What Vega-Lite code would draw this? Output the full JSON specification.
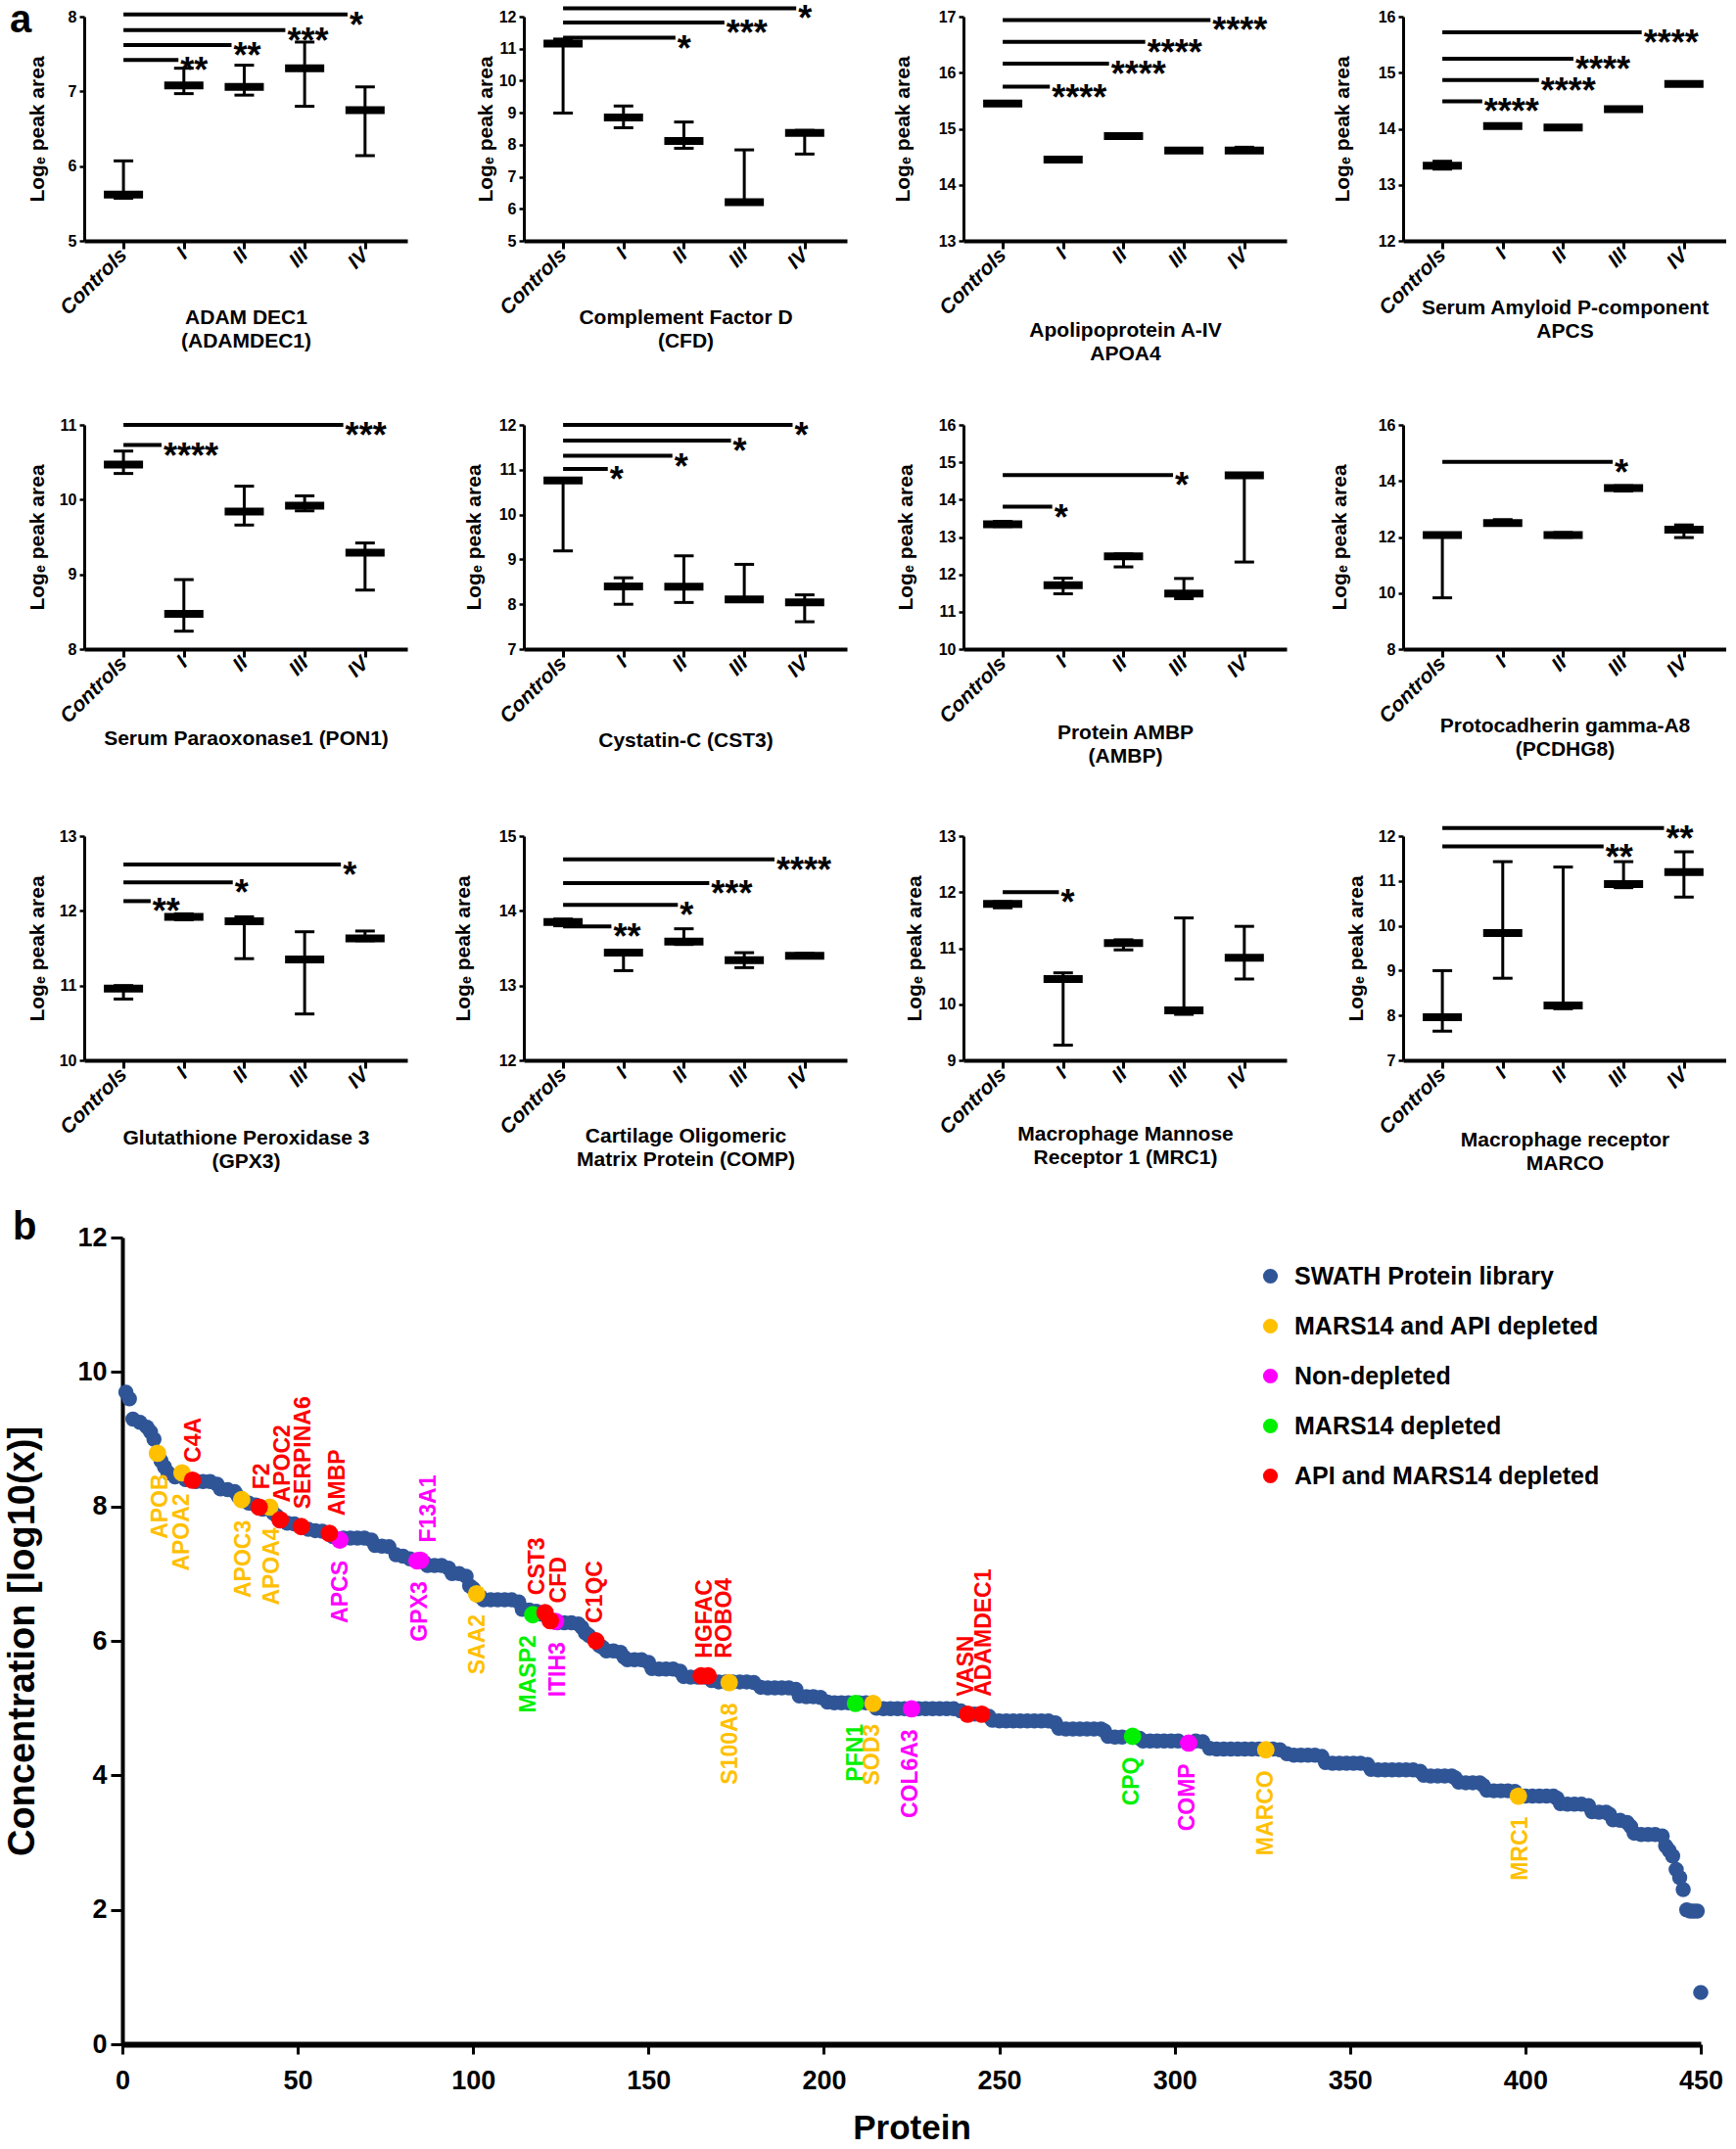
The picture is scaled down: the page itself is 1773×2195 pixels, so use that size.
{
"$schema":"https://vega.github.io/schema/vega-lite/v6.json",
"background":"white",
"padding":{"left":4,"top":0,"right":0,"bottom":0},
"config":{
 "font":"Liberation Sans",
 "view":{"stroke":null},
 "axis":{"grid":false,"labelFontWeight":"bold","titleFontWeight":"bold","domainColor":"#000","tickColor":"#000","labelColor":"#000","titleColor":"#000","labelOverlap":false,"labelFlush":false,"labelBound":false},
 "axisX":{"labelAngle":-45,"labelAlign":"right","labelBaseline":"middle","labelFontStyle":"italic","labelFontSize":21,"labelPadding":3,"tickSize":8,"tickWidth":3,"domainWidth":4,"titleFontSize":21,"titleBaseline":"top","titleLineHeight":24},
 "axisY":{"labelFontSize":16,"labelPadding":3,"tickSize":5,"tickWidth":2.5,"domainWidth":3,"titleFontSize":21},
 "title":{"fontWeight":"bold","color":"#000","font":"Liberation Sans"}
},
"datasets":{
 "pa":[
  {"pn":1,"g":0,"m":5.62,"lo":5.57,"hi":6.07},{"pn":1,"g":1,"m":7.08,"lo":6.97,"hi":7.31},{"pn":1,"g":2,"m":7.06,"lo":6.95,"hi":7.35},{"pn":1,"g":3,"m":7.31,"lo":6.80,"hi":7.66},{"pn":1,"g":4,"m":6.75,"lo":6.14,"hi":7.06},
  {"pn":2,"g":0,"m":11.16,"lo":8.99,"hi":11.30},{"pn":2,"g":1,"m":8.85,"lo":8.53,"hi":9.21},{"pn":2,"g":2,"m":8.12,"lo":7.89,"hi":8.71},{"pn":2,"g":3,"m":6.21,"lo":6.17,"hi":7.84},{"pn":2,"g":4,"m":8.37,"lo":7.71,"hi":8.45},
  {"pn":3,"g":0,"m":15.45,"lo":15.43,"hi":15.47},{"pn":3,"g":1,"m":14.45,"lo":14.43,"hi":14.47},{"pn":3,"g":2,"m":14.87,"lo":14.85,"hi":14.89},{"pn":3,"g":3,"m":14.61,"lo":14.59,"hi":14.63},{"pn":3,"g":4,"m":14.61,"lo":14.59,"hi":14.67},
  {"pn":4,"g":0,"m":13.34,"lo":13.28,"hi":13.42},{"pn":4,"g":1,"m":14.05,"lo":14.03,"hi":14.07},{"pn":4,"g":2,"m":14.02,"lo":14.0,"hi":14.04},{"pn":4,"g":3,"m":14.35,"lo":14.33,"hi":14.37},{"pn":4,"g":4,"m":14.80,"lo":14.78,"hi":14.82},
  {"pn":5,"g":0,"m":10.47,"lo":10.35,"hi":10.65},{"pn":5,"g":1,"m":8.47,"lo":8.24,"hi":8.93},{"pn":5,"g":2,"m":9.84,"lo":9.66,"hi":10.18},{"pn":5,"g":3,"m":9.92,"lo":9.85,"hi":10.05},{"pn":5,"g":4,"m":9.29,"lo":8.79,"hi":9.42},
  {"pn":6,"g":0,"m":10.76,"lo":9.19,"hi":10.80},{"pn":6,"g":1,"m":8.40,"lo":8.00,"hi":8.59},{"pn":6,"g":2,"m":8.39,"lo":8.04,"hi":9.08},{"pn":6,"g":3,"m":8.11,"lo":8.08,"hi":8.89},{"pn":6,"g":4,"m":8.04,"lo":7.61,"hi":8.21},
  {"pn":7,"g":0,"m":13.34,"lo":13.28,"hi":13.42},{"pn":7,"g":1,"m":11.71,"lo":11.48,"hi":11.90},{"pn":7,"g":2,"m":12.48,"lo":12.20,"hi":12.55},{"pn":7,"g":3,"m":11.49,"lo":11.35,"hi":11.89},{"pn":7,"g":4,"m":14.65,"lo":12.33,"hi":14.70},
  {"pn":8,"g":0,"m":12.07,"lo":9.83,"hi":12.12},{"pn":8,"g":1,"m":12.50,"lo":12.42,"hi":12.62},{"pn":8,"g":2,"m":12.07,"lo":11.99,"hi":12.16},{"pn":8,"g":3,"m":13.75,"lo":13.64,"hi":13.83},{"pn":8,"g":4,"m":12.26,"lo":11.98,"hi":12.43},
  {"pn":9,"g":0,"m":10.96,"lo":10.82,"hi":11.00},{"pn":9,"g":1,"m":11.92,"lo":11.88,"hi":11.96},{"pn":9,"g":2,"m":11.86,"lo":11.36,"hi":11.92},{"pn":9,"g":3,"m":11.35,"lo":10.62,"hi":11.72},{"pn":9,"g":4,"m":11.63,"lo":11.60,"hi":11.73},
  {"pn":10,"g":0,"m":13.85,"lo":13.80,"hi":13.89},{"pn":10,"g":1,"m":13.44,"lo":13.20,"hi":13.47},{"pn":10,"g":2,"m":13.59,"lo":13.55,"hi":13.76},{"pn":10,"g":3,"m":13.34,"lo":13.24,"hi":13.44},{"pn":10,"g":4,"m":13.40,"lo":13.37,"hi":13.43},
  {"pn":11,"g":0,"m":11.79,"lo":11.72,"hi":11.83},{"pn":11,"g":1,"m":10.45,"lo":9.27,"hi":10.56},{"pn":11,"g":2,"m":11.09,"lo":10.97,"hi":11.15},{"pn":11,"g":3,"m":9.89,"lo":9.82,"hi":11.54},{"pn":11,"g":4,"m":10.83,"lo":10.45,"hi":11.39},
  {"pn":12,"g":0,"m":7.96,"lo":7.65,"hi":9.00},{"pn":12,"g":1,"m":9.84,"lo":8.83,"hi":11.43},{"pn":12,"g":2,"m":8.22,"lo":8.15,"hi":11.31},{"pn":12,"g":3,"m":10.93,"lo":10.85,"hi":11.43},{"pn":12,"g":4,"m":11.20,"lo":10.64,"hi":11.65}
 ],
 "sg":[
  {"pn":1,"id":1,"v":7.42,"x0":0,"xe":0.91,"s":"**"},{"pn":1,"id":2,"v":7.62,"x0":0,"xe":1.79,"s":"**"},{"pn":1,"id":3,"v":7.82,"x0":0,"xe":2.68,"s":"***"},{"pn":1,"id":4,"v":8.03,"x0":0,"xe":3.71,"s":"*"},
  {"pn":2,"id":5,"v":11.34,"x0":0,"xe":1.86,"s":"*"},{"pn":2,"id":6,"v":11.82,"x0":0,"xe":2.67,"s":"***"},{"pn":2,"id":7,"v":12.26,"x0":0,"xe":3.86,"s":"*"},
  {"pn":3,"id":8,"v":15.75,"x0":0,"xe":0.78,"s":"****"},{"pn":3,"id":9,"v":16.16,"x0":0,"xe":1.76,"s":"****"},{"pn":3,"id":10,"v":16.55,"x0":0,"xe":2.36,"s":"****"},{"pn":3,"id":11,"v":16.94,"x0":0,"xe":3.44,"s":"****"},
  {"pn":4,"id":12,"v":14.49,"x0":0,"xe":0.66,"s":"****"},{"pn":4,"id":13,"v":14.87,"x0":0,"xe":1.60,"s":"****"},{"pn":4,"id":14,"v":15.25,"x0":0,"xe":2.17,"s":"****"},{"pn":4,"id":15,"v":15.72,"x0":0,"xe":3.30,"s":"****"},
  {"pn":5,"id":16,"v":10.73,"x0":0,"xe":0.63,"s":"****"},{"pn":5,"id":17,"v":11.0,"x0":0,"xe":3.64,"s":"***"},
  {"pn":6,"id":18,"v":11.02,"x0":0,"xe":0.74,"s":"*"},{"pn":6,"id":19,"v":11.31,"x0":0,"xe":1.81,"s":"*"},{"pn":6,"id":20,"v":11.65,"x0":0,"xe":2.78,"s":"*"},{"pn":6,"id":21,"v":12.0,"x0":0,"xe":3.8,"s":"*"},
  {"pn":7,"id":22,"v":13.81,"x0":0,"xe":0.82,"s":"*"},{"pn":7,"id":23,"v":14.66,"x0":0,"xe":2.82,"s":"*"},
  {"pn":8,"id":24,"v":14.68,"x0":0,"xe":2.82,"s":"*"},
  {"pn":9,"id":25,"v":12.13,"x0":0,"xe":0.45,"s":"**"},{"pn":9,"id":26,"v":12.38,"x0":0,"xe":1.81,"s":"*"},{"pn":9,"id":27,"v":12.62,"x0":0,"xe":3.6,"s":"*"},
  {"pn":10,"id":28,"v":13.79,"x0":0,"xe":0.8,"s":"**"},{"pn":10,"id":29,"v":14.08,"x0":0,"xe":1.9,"s":"*"},{"pn":10,"id":30,"v":14.37,"x0":0,"xe":2.42,"s":"***"},{"pn":10,"id":31,"v":14.69,"x0":0,"xe":3.5,"s":"****"},
  {"pn":11,"id":32,"v":12.0,"x0":0,"xe":0.93,"s":"*"},
  {"pn":12,"id":33,"v":11.77,"x0":0,"xe":2.67,"s":"**"},{"pn":12,"id":34,"v":12.18,"x0":0,"xe":3.67,"s":"**"}
 ],
 "bl":[
  {"p":1,"c":9.70,"k":"S"},{"p":2,"c":9.60,"k":"S"},{"p":3,"c":9.30,"k":"S"},{"p":5,"c":9.25,"k":"S"},{"p":7,"c":9.18,"k":"S"},{"p":8,"c":9.11,"k":"S"},{"p":9,"c":9.00,"k":"S"},{"p":11,"c":8.68,"k":"S"},{"p":12,"c":8.59,"k":"S"},{"p":13,"c":8.50,"k":"S"},{"p":15,"c":8.44,"k":"S"},{"p":18,"c":8.40,"k":"S"},{"p":21,"c":8.37,"k":"S"},{"p":23,"c":8.37,"k":"S"},{"p":25,"c":8.37,"k":"S"},{"p":27,"c":8.33,"k":"S"},{"p":28,"c":8.26,"k":"S"},{"p":30,"c":8.25,"k":"S"},{"p":32,"c":8.22,"k":"S"},{"p":33,"c":8.15,"k":"S"},{"p":36,"c":8.05,"k":"S"},{"p":38,"c":8.02,"k":"S"},{"p":40,"c":7.96,"k":"S"},{"p":43,"c":7.90,"k":"S"},{"p":44,"c":7.86,"k":"S"},{"p":47,"c":7.75,"k":"S"},{"p":49,"c":7.74,"k":"S"},{"p":53,"c":7.66,"k":"S"},{"p":55,"c":7.64,"k":"S"},{"p":57,"c":7.63,"k":"S"},{"p":60,"c":7.55,"k":"S"},{"p":63,"c":7.53,"k":"S"},{"p":65,"c":7.53,"k":"S"},{"p":67,"c":7.53,"k":"S"},{"p":69,"c":7.53,"k":"S"},{"p":71,"c":7.50,"k":"S"},{"p":72,"c":7.42,"k":"S"},{"p":74,"c":7.41,"k":"S"},{"p":76,"c":7.40,"k":"S"},{"p":78,"c":7.28,"k":"S"},{"p":80,"c":7.26,"k":"S"},{"p":82,"c":7.22,"k":"S"},{"p":86,"c":7.17,"k":"S"},{"p":87,"c":7.12,"k":"S"},{"p":89,"c":7.12,"k":"S"},{"p":91,"c":7.12,"k":"S"},{"p":93,"c":7.08,"k":"S"},{"p":94,"c":7.00,"k":"S"},{"p":96,"c":7.00,"k":"S"},{"p":98,"c":6.96,"k":"S"},{"p":99,"c":6.82,"k":"S"},{"p":100,"c":6.78,"k":"S"},{"p":102,"c":6.66,"k":"S"},{"p":103,"c":6.61,"k":"S"},{"p":105,"c":6.61,"k":"S"},{"p":107,"c":6.61,"k":"S"},{"p":109,"c":6.61,"k":"S"},{"p":111,"c":6.61,"k":"S"},{"p":113,"c":6.58,"k":"S"},{"p":114,"c":6.47,"k":"S"},{"p":116,"c":6.46,"k":"S"},{"p":118,"c":6.44,"k":"S"},{"p":119,"c":6.40,"k":"S"},{"p":121,"c":6.36,"k":"S"},{"p":124,"c":6.27,"k":"S"},{"p":126,"c":6.27,"k":"S"},{"p":128,"c":6.27,"k":"S"},{"p":130,"c":6.25,"k":"S"},{"p":131,"c":6.20,"k":"S"},{"p":132,"c":6.12,"k":"S"},{"p":133,"c":6.08,"k":"S"},{"p":136,"c":5.93,"k":"S"},{"p":137,"c":5.90,"k":"S"},{"p":138,"c":5.85,"k":"S"},{"p":140,"c":5.85,"k":"S"},{"p":142,"c":5.83,"k":"S"},{"p":143,"c":5.76,"k":"S"},{"p":144,"c":5.72,"k":"S"},{"p":146,"c":5.72,"k":"S"},{"p":148,"c":5.72,"k":"S"},{"p":150,"c":5.68,"k":"S"},{"p":151,"c":5.59,"k":"S"},{"p":153,"c":5.58,"k":"S"},{"p":155,"c":5.58,"k":"S"},{"p":157,"c":5.58,"k":"S"},{"p":159,"c":5.55,"k":"S"},{"p":160,"c":5.47,"k":"S"},{"p":162,"c":5.46,"k":"S"},{"p":164,"c":5.46,"k":"S"},{"p":166,"c":5.46,"k":"S"},{"p":168,"c":5.41,"k":"S"},{"p":170,"c":5.39,"k":"S"},{"p":172,"c":5.39,"k":"S"},{"p":174,"c":5.39,"k":"S"},{"p":176,"c":5.39,"k":"S"},{"p":178,"c":5.39,"k":"S"},{"p":180,"c":5.38,"k":"S"},{"p":182,"c":5.31,"k":"S"},{"p":184,"c":5.30,"k":"S"},{"p":186,"c":5.30,"k":"S"},{"p":188,"c":5.30,"k":"S"},{"p":190,"c":5.30,"k":"S"},{"p":192,"c":5.28,"k":"S"},{"p":193,"c":5.18,"k":"S"},{"p":195,"c":5.17,"k":"S"},{"p":197,"c":5.17,"k":"S"},{"p":199,"c":5.16,"k":"S"},{"p":201,"c":5.09,"k":"S"},{"p":203,"c":5.08,"k":"S"},{"p":205,"c":5.08,"k":"S"},{"p":207,"c":5.08,"k":"S"},{"p":210,"c":5.08,"k":"S"},{"p":212,"c":5.08,"k":"S"},{"p":215,"c":5.00,"k":"S"},{"p":217,"c":4.99,"k":"S"},{"p":219,"c":4.99,"k":"S"},{"p":221,"c":4.99,"k":"S"},{"p":223,"c":4.99,"k":"S"},{"p":227,"c":4.99,"k":"S"},{"p":229,"c":4.99,"k":"S"},{"p":231,"c":4.99,"k":"S"},{"p":233,"c":4.99,"k":"S"},{"p":235,"c":4.99,"k":"S"},{"p":237,"c":4.99,"k":"S"},{"p":239,"c":4.96,"k":"S"},{"p":243,"c":4.91,"k":"S"},{"p":247,"c":4.88,"k":"S"},{"p":248,"c":4.82,"k":"S"},{"p":250,"c":4.81,"k":"S"},{"p":252,"c":4.81,"k":"S"},{"p":254,"c":4.81,"k":"S"},{"p":256,"c":4.81,"k":"S"},{"p":258,"c":4.81,"k":"S"},{"p":260,"c":4.81,"k":"S"},{"p":262,"c":4.81,"k":"S"},{"p":264,"c":4.81,"k":"S"},{"p":266,"c":4.78,"k":"S"},{"p":267,"c":4.70,"k":"S"},{"p":269,"c":4.69,"k":"S"},{"p":271,"c":4.69,"k":"S"},{"p":273,"c":4.69,"k":"S"},{"p":275,"c":4.69,"k":"S"},{"p":277,"c":4.69,"k":"S"},{"p":279,"c":4.69,"k":"S"},{"p":280,"c":4.66,"k":"S"},{"p":281,"c":4.58,"k":"S"},{"p":283,"c":4.57,"k":"S"},{"p":285,"c":4.57,"k":"S"},{"p":290,"c":4.55,"k":"S"},{"p":291,"c":4.51,"k":"S"},{"p":293,"c":4.51,"k":"S"},{"p":295,"c":4.51,"k":"S"},{"p":297,"c":4.51,"k":"S"},{"p":299,"c":4.51,"k":"S"},{"p":301,"c":4.51,"k":"S"},{"p":306,"c":4.51,"k":"S"},{"p":308,"c":4.50,"k":"S"},{"p":310,"c":4.40,"k":"S"},{"p":312,"c":4.39,"k":"S"},{"p":314,"c":4.39,"k":"S"},{"p":316,"c":4.39,"k":"S"},{"p":318,"c":4.39,"k":"S"},{"p":320,"c":4.39,"k":"S"},{"p":322,"c":4.39,"k":"S"},{"p":324,"c":4.39,"k":"S"},{"p":328,"c":4.39,"k":"S"},{"p":330,"c":4.38,"k":"S"},{"p":332,"c":4.32,"k":"S"},{"p":334,"c":4.30,"k":"S"},{"p":336,"c":4.30,"k":"S"},{"p":338,"c":4.30,"k":"S"},{"p":340,"c":4.30,"k":"S"},{"p":342,"c":4.28,"k":"S"},{"p":343,"c":4.19,"k":"S"},{"p":345,"c":4.18,"k":"S"},{"p":347,"c":4.18,"k":"S"},{"p":349,"c":4.18,"k":"S"},{"p":351,"c":4.18,"k":"S"},{"p":353,"c":4.18,"k":"S"},{"p":355,"c":4.16,"k":"S"},{"p":356,"c":4.09,"k":"S"},{"p":358,"c":4.08,"k":"S"},{"p":360,"c":4.08,"k":"S"},{"p":362,"c":4.08,"k":"S"},{"p":364,"c":4.08,"k":"S"},{"p":366,"c":4.08,"k":"S"},{"p":368,"c":4.08,"k":"S"},{"p":370,"c":4.06,"k":"S"},{"p":371,"c":4.00,"k":"S"},{"p":373,"c":3.99,"k":"S"},{"p":375,"c":3.99,"k":"S"},{"p":377,"c":3.99,"k":"S"},{"p":379,"c":3.99,"k":"S"},{"p":380,"c":3.96,"k":"S"},{"p":381,"c":3.90,"k":"S"},{"p":383,"c":3.89,"k":"S"},{"p":385,"c":3.89,"k":"S"},{"p":387,"c":3.89,"k":"S"},{"p":388,"c":3.85,"k":"S"},{"p":389,"c":3.78,"k":"S"},{"p":391,"c":3.77,"k":"S"},{"p":393,"c":3.77,"k":"S"},{"p":395,"c":3.77,"k":"S"},{"p":397,"c":3.76,"k":"S"},{"p":400,"c":3.69,"k":"S"},{"p":402,"c":3.69,"k":"S"},{"p":404,"c":3.69,"k":"S"},{"p":406,"c":3.69,"k":"S"},{"p":408,"c":3.69,"k":"S"},{"p":409,"c":3.66,"k":"S"},{"p":410,"c":3.58,"k":"S"},{"p":412,"c":3.57,"k":"S"},{"p":414,"c":3.57,"k":"S"},{"p":416,"c":3.57,"k":"S"},{"p":418,"c":3.55,"k":"S"},{"p":419,"c":3.46,"k":"S"},{"p":421,"c":3.45,"k":"S"},{"p":423,"c":3.45,"k":"S"},{"p":424,"c":3.42,"k":"S"},{"p":425,"c":3.34,"k":"S"},{"p":427,"c":3.33,"k":"S"},{"p":429,"c":3.30,"k":"S"},{"p":430,"c":3.24,"k":"S"},{"p":431,"c":3.14,"k":"S"},{"p":433,"c":3.12,"k":"S"},{"p":435,"c":3.12,"k":"S"},{"p":437,"c":3.12,"k":"S"},{"p":439,"c":3.10,"k":"S"},{"p":440,"c":2.95,"k":"S"},{"p":441,"c":2.88,"k":"S"},{"p":442,"c":2.80,"k":"S"},{"p":443,"c":2.60,"k":"S"},{"p":444,"c":2.48,"k":"S"},{"p":445,"c":2.30,"k":"S"},{"p":446,"c":2.00,"k":"S"},{"p":447,"c":1.98,"k":"S"},{"p":448,"c":1.98,"k":"S"},{"p":449,"c":1.98,"k":"S"},{"p":450,"c":0.77,"k":"S"}
 ],
 "hl":[
  {"p":10,"c":8.79,"k":"Y","n":"APOB","lp":10.8,"sd":"d"},
  {"p":17,"c":8.50,"k":"Y","n":"APOA2","lp":17,"sd":"d"},
  {"p":34,"c":8.10,"k":"Y","n":"APOC3","lp":34.6,"sd":"d"},
  {"p":42,"c":7.99,"k":"Y","n":"APOA4","lp":42.6,"sd":"d"},
  {"p":101,"c":6.70,"k":"Y","n":"SAA2","lp":101.3,"sd":"d"},
  {"p":173,"c":5.38,"k":"Y","n":"S100A8","lp":173.3,"sd":"d"},
  {"p":214,"c":5.07,"k":"Y","n":"SOD3","lp":213.8,"sd":"d"},
  {"p":326,"c":4.38,"k":"Y","n":"MARCO","lp":326,"sd":"d"},
  {"p":398,"c":3.69,"k":"Y","n":"MRC1","lp":398.6,"sd":"d"},
  {"p":62,"c":7.50,"k":"M","n":"APCS","lp":62.2,"sd":"d"},
  {"p":84,"c":7.19,"k":"M","n":"GPX3","lp":84.8,"sd":"d"},
  {"p":85,"c":7.20,"k":"M","n":"F13A1","lp":87.3,"sd":"u"},
  {"p":123.5,"c":6.29,"k":"M","n":"ITIH3","lp":124.2,"sd":"d"},
  {"p":225,"c":4.99,"k":"M","n":"COL6A3","lp":224.8,"sd":"d"},
  {"p":304,"c":4.48,"k":"M","n":"COMP","lp":303.8,"sd":"d"},
  {"p":117,"c":6.39,"k":"G","n":"MASP2","lp":115.9,"sd":"d"},
  {"p":209,"c":5.07,"k":"G","n":"PFN1","lp":209,"sd":"d"},
  {"p":288,"c":4.58,"k":"G","n":"CPQ","lp":287.8,"sd":"d"},
  {"p":20,"c":8.39,"k":"R","n":"C4A","lp":20.4,"sd":"u"},
  {"p":39,"c":7.99,"k":"R","n":"F2","lp":40,"sd":"u"},
  {"p":45,"c":7.80,"k":"R","n":"APOC2","lp":45.9,"sd":"u"},
  {"p":51,"c":7.70,"k":"R","n":"SERPINA6","lp":51.7,"sd":"u"},
  {"p":59,"c":7.60,"k":"R","n":"AMBP","lp":61.4,"sd":"u"},
  {"p":120.5,"c":6.42,"k":"R","n":"CST3","lp":118.3,"sd":"u"},
  {"p":122,"c":6.30,"k":"R","n":"CFD","lp":124.5,"sd":"u"},
  {"p":135,"c":6.00,"k":"R","n":"C1QC","lp":134.7,"sd":"u"},
  {"p":165,"c":5.48,"k":"R","n":"HGFAC","lp":166,"sd":"u"},
  {"p":167,"c":5.48,"k":"R","n":"ROBO4","lp":171.8,"sd":"u"},
  {"p":241,"c":4.91,"k":"R","n":"VASN","lp":240.6,"sd":"u"},
  {"p":245,"c":4.91,"k":"R","n":"ADAMDEC1","lp":245.7,"sd":"u"}
 ]
},
"spacing":36,
"vconcat":[
 {
  "title":{"text":"a","anchor":"start","frame":"group","dx":-76,"dy":73,"offset":0,"fontSize":40,"baseline":"alphabetic"},
  "spacing":55,
  "vconcat":[
   {"hconcat":[
    {"width":330,"height":229,
     "encoding":{"x":{"field":"g","type":"quantitative","scale":{"domain":[-0.65,4.7],"nice":false,"zero":false},"axis":{"values":[0,1,2,3,4],"labelExpr":"['Controls','I','II','III','IV'][datum.value]","title":["ADAM DEC1","(ADAMDEC1)"],"titleY":67}},
                 "y":{"field":"v","type":"quantitative","scale":{"domain":[5,8],"nice":false,"zero":false},"axis":{"values":[5,6,7,8],"title":"Logₑ peak area","titlePadding":21}}},
     "layer":[
      {"data":{"name":"sg"},"transform":[{"filter":"datum.pn==1"},{"fold":["x0","xe"],"as":["kk","g"]}],"mark":{"type":"line","color":"black","strokeWidth":4},"encoding":{"detail":{"field":"id","type":"nominal"}}},
      {"data":{"name":"sg"},"transform":[{"filter":"datum.pn==1"},{"fold":["xe"],"as":["kk","g"]}],"mark":{"type":"text","align":"left","baseline":"alphabetic","dx":2,"dy":23,"fontSize":36,"fontWeight":"bold","color":"black"},"encoding":{"text":{"field":"s","type":"nominal"}}},
      {"data":{"name":"pa"},"transform":[{"filter":"datum.pn==1"},{"fold":["lo","hi"],"as":["k","v"]}],"mark":{"type":"line","color":"black","strokeWidth":3},"encoding":{"detail":{"field":"g","type":"nominal"},"order":{"field":"v","type":"quantitative"}}},
      {"data":{"name":"pa"},"transform":[{"filter":"datum.pn==1"},{"fold":["lo","hi"],"as":["k","v"]}],"mark":{"type":"tick","orient":"horizontal","size":20,"thickness":3,"color":"black","opacity":1}},
      {"data":{"name":"pa"},"transform":[{"filter":"datum.pn==1"},{"fold":["m"],"as":["k","v"]}],"mark":{"type":"tick","orient":"horizontal","size":40,"thickness":8,"color":"black","opacity":1}}
     ]},
    {"width":330,"height":229,
     "encoding":{"x":{"field":"g","type":"quantitative","scale":{"domain":[-0.65,4.7],"nice":false,"zero":false},"axis":{"values":[0,1,2,3,4],"labelExpr":"['Controls','I','II','III','IV'][datum.value]","title":["Complement Factor D","(CFD)"],"titleY":67}},
                 "y":{"field":"v","type":"quantitative","scale":{"domain":[5,12],"nice":false,"zero":false},"axis":{"values":[5,6,7,8,9,10,11,12],"title":"Logₑ peak area","titlePadding":3}}},
     "layer":[
      {"data":{"name":"sg"},"transform":[{"filter":"datum.pn==2"},{"fold":["x0","xe"],"as":["kk","g"]}],"mark":{"type":"line","color":"black","strokeWidth":4},"encoding":{"detail":{"field":"id","type":"nominal"}}},
      {"data":{"name":"sg"},"transform":[{"filter":"datum.pn==2"},{"fold":["xe"],"as":["kk","g"]}],"mark":{"type":"text","align":"left","baseline":"alphabetic","dx":2,"dy":23,"fontSize":36,"fontWeight":"bold","color":"black"},"encoding":{"text":{"field":"s","type":"nominal"}}},
      {"data":{"name":"pa"},"transform":[{"filter":"datum.pn==2"},{"fold":["lo","hi"],"as":["k","v"]}],"mark":{"type":"line","color":"black","strokeWidth":3},"encoding":{"detail":{"field":"g","type":"nominal"},"order":{"field":"v","type":"quantitative"}}},
      {"data":{"name":"pa"},"transform":[{"filter":"datum.pn==2"},{"fold":["lo","hi"],"as":["k","v"]}],"mark":{"type":"tick","orient":"horizontal","size":20,"thickness":3,"color":"black","opacity":1}},
      {"data":{"name":"pa"},"transform":[{"filter":"datum.pn==2"},{"fold":["m"],"as":["k","v"]}],"mark":{"type":"tick","orient":"horizontal","size":40,"thickness":8,"color":"black","opacity":1}}
     ]},
    {"width":330,"height":229,
     "encoding":{"x":{"field":"g","type":"quantitative","scale":{"domain":[-0.65,4.7],"nice":false,"zero":false},"axis":{"values":[0,1,2,3,4],"labelExpr":"['Controls','I','II','III','IV'][datum.value]","title":["Apolipoprotein A-IV","APOA4"],"titleY":80}},
                 "y":{"field":"v","type":"quantitative","scale":{"domain":[13,17],"nice":false,"zero":false},"axis":{"values":[13,14,15,16,17],"title":"Logₑ peak area","titlePadding":26}}},
     "layer":[
      {"data":{"name":"sg"},"transform":[{"filter":"datum.pn==3"},{"fold":["x0","xe"],"as":["kk","g"]}],"mark":{"type":"line","color":"black","strokeWidth":4},"encoding":{"detail":{"field":"id","type":"nominal"}}},
      {"data":{"name":"sg"},"transform":[{"filter":"datum.pn==3"},{"fold":["xe"],"as":["kk","g"]}],"mark":{"type":"text","align":"left","baseline":"alphabetic","dx":2,"dy":23,"fontSize":36,"fontWeight":"bold","color":"black"},"encoding":{"text":{"field":"s","type":"nominal"}}},
      {"data":{"name":"pa"},"transform":[{"filter":"datum.pn==3"},{"fold":["lo","hi"],"as":["k","v"]}],"mark":{"type":"line","color":"black","strokeWidth":3},"encoding":{"detail":{"field":"g","type":"nominal"},"order":{"field":"v","type":"quantitative"}}},
      {"data":{"name":"pa"},"transform":[{"filter":"datum.pn==3"},{"fold":["lo","hi"],"as":["k","v"]}],"mark":{"type":"tick","orient":"horizontal","size":20,"thickness":3,"color":"black","opacity":1}},
      {"data":{"name":"pa"},"transform":[{"filter":"datum.pn==3"},{"fold":["m"],"as":["k","v"]}],"mark":{"type":"tick","orient":"horizontal","size":40,"thickness":8,"color":"black","opacity":1}}
     ]},
    {"width":330,"height":229,
     "encoding":{"x":{"field":"g","type":"quantitative","scale":{"domain":[-0.65,4.7],"nice":false,"zero":false},"axis":{"values":[0,1,2,3,4],"labelExpr":"['Controls','I','II','III','IV'][datum.value]","title":["Serum Amyloid P-component","APCS"],"titleY":57}},
                 "y":{"field":"v","type":"quantitative","scale":{"domain":[12,16],"nice":false,"zero":false},"axis":{"values":[12,13,14,15,16],"title":"Logₑ peak area","titlePadding":26}}},
     "layer":[
      {"data":{"name":"sg"},"transform":[{"filter":"datum.pn==4"},{"fold":["x0","xe"],"as":["kk","g"]}],"mark":{"type":"line","color":"black","strokeWidth":4},"encoding":{"detail":{"field":"id","type":"nominal"}}},
      {"data":{"name":"sg"},"transform":[{"filter":"datum.pn==4"},{"fold":["xe"],"as":["kk","g"]}],"mark":{"type":"text","align":"left","baseline":"alphabetic","dx":2,"dy":23,"fontSize":36,"fontWeight":"bold","color":"black"},"encoding":{"text":{"field":"s","type":"nominal"}}},
      {"data":{"name":"pa"},"transform":[{"filter":"datum.pn==4"},{"fold":["lo","hi"],"as":["k","v"]}],"mark":{"type":"line","color":"black","strokeWidth":3},"encoding":{"detail":{"field":"g","type":"nominal"},"order":{"field":"v","type":"quantitative"}}},
      {"data":{"name":"pa"},"transform":[{"filter":"datum.pn==4"},{"fold":["lo","hi"],"as":["k","v"]}],"mark":{"type":"tick","orient":"horizontal","size":20,"thickness":3,"color":"black","opacity":1}},
      {"data":{"name":"pa"},"transform":[{"filter":"datum.pn==4"},{"fold":["m"],"as":["k","v"]}],"mark":{"type":"tick","orient":"horizontal","size":40,"thickness":8,"color":"black","opacity":1}}
     ]}
   ],"spacing":119,"bounds":"flush"},
   {"hconcat":[
    {"width":330,"height":229,
     "encoding":{"x":{"field":"g","type":"quantitative","scale":{"domain":[-0.65,4.7],"nice":false,"zero":false},"axis":{"values":[0,1,2,3,4],"labelExpr":"['Controls','I','II','III','IV'][datum.value]","title":"Serum Paraoxonase1 (PON1)","titleY":80}},
                 "y":{"field":"v","type":"quantitative","scale":{"domain":[8,11],"nice":false,"zero":false},"axis":{"values":[8,9,10,11],"title":"Logₑ peak area","titlePadding":12}}},
     "layer":[
      {"data":{"name":"sg"},"transform":[{"filter":"datum.pn==5"},{"fold":["x0","xe"],"as":["kk","g"]}],"mark":{"type":"line","color":"black","strokeWidth":4},"encoding":{"detail":{"field":"id","type":"nominal"}}},
      {"data":{"name":"sg"},"transform":[{"filter":"datum.pn==5"},{"fold":["xe"],"as":["kk","g"]}],"mark":{"type":"text","align":"left","baseline":"alphabetic","dx":2,"dy":23,"fontSize":36,"fontWeight":"bold","color":"black"},"encoding":{"text":{"field":"s","type":"nominal"}}},
      {"data":{"name":"pa"},"transform":[{"filter":"datum.pn==5"},{"fold":["lo","hi"],"as":["k","v"]}],"mark":{"type":"line","color":"black","strokeWidth":3},"encoding":{"detail":{"field":"g","type":"nominal"},"order":{"field":"v","type":"quantitative"}}},
      {"data":{"name":"pa"},"transform":[{"filter":"datum.pn==5"},{"fold":["lo","hi"],"as":["k","v"]}],"mark":{"type":"tick","orient":"horizontal","size":20,"thickness":3,"color":"black","opacity":1}},
      {"data":{"name":"pa"},"transform":[{"filter":"datum.pn==5"},{"fold":["m"],"as":["k","v"]}],"mark":{"type":"tick","orient":"horizontal","size":40,"thickness":8,"color":"black","opacity":1}}
     ]},
    {"width":330,"height":229,
     "encoding":{"x":{"field":"g","type":"quantitative","scale":{"domain":[-0.65,4.7],"nice":false,"zero":false},"axis":{"values":[0,1,2,3,4],"labelExpr":"['Controls','I','II','III','IV'][datum.value]","title":"Cystatin-C (CST3)","titleY":82}},
                 "y":{"field":"v","type":"quantitative","scale":{"domain":[7,12],"nice":false,"zero":false},"axis":{"values":[7,8,9,10,11,12],"title":"Logₑ peak area","titlePadding":15}}},
     "layer":[
      {"data":{"name":"sg"},"transform":[{"filter":"datum.pn==6"},{"fold":["x0","xe"],"as":["kk","g"]}],"mark":{"type":"line","color":"black","strokeWidth":4},"encoding":{"detail":{"field":"id","type":"nominal"}}},
      {"data":{"name":"sg"},"transform":[{"filter":"datum.pn==6"},{"fold":["xe"],"as":["kk","g"]}],"mark":{"type":"text","align":"left","baseline":"alphabetic","dx":2,"dy":23,"fontSize":36,"fontWeight":"bold","color":"black"},"encoding":{"text":{"field":"s","type":"nominal"}}},
      {"data":{"name":"pa"},"transform":[{"filter":"datum.pn==6"},{"fold":["lo","hi"],"as":["k","v"]}],"mark":{"type":"line","color":"black","strokeWidth":3},"encoding":{"detail":{"field":"g","type":"nominal"},"order":{"field":"v","type":"quantitative"}}},
      {"data":{"name":"pa"},"transform":[{"filter":"datum.pn==6"},{"fold":["lo","hi"],"as":["k","v"]}],"mark":{"type":"tick","orient":"horizontal","size":20,"thickness":3,"color":"black","opacity":1}},
      {"data":{"name":"pa"},"transform":[{"filter":"datum.pn==6"},{"fold":["m"],"as":["k","v"]}],"mark":{"type":"tick","orient":"horizontal","size":40,"thickness":8,"color":"black","opacity":1}}
     ]},
    {"width":330,"height":229,
     "encoding":{"x":{"field":"g","type":"quantitative","scale":{"domain":[-0.65,4.7],"nice":false,"zero":false},"axis":{"values":[0,1,2,3,4],"labelExpr":"['Controls','I','II','III','IV'][datum.value]","title":["Protein AMBP","(AMBP)"],"titleY":74}},
                 "y":{"field":"v","type":"quantitative","scale":{"domain":[10,16],"nice":false,"zero":false},"axis":{"values":[10,11,12,13,14,15,16],"title":"Logₑ peak area","titlePadding":23}}},
     "layer":[
      {"data":{"name":"sg"},"transform":[{"filter":"datum.pn==7"},{"fold":["x0","xe"],"as":["kk","g"]}],"mark":{"type":"line","color":"black","strokeWidth":4},"encoding":{"detail":{"field":"id","type":"nominal"}}},
      {"data":{"name":"sg"},"transform":[{"filter":"datum.pn==7"},{"fold":["xe"],"as":["kk","g"]}],"mark":{"type":"text","align":"left","baseline":"alphabetic","dx":2,"dy":23,"fontSize":36,"fontWeight":"bold","color":"black"},"encoding":{"text":{"field":"s","type":"nominal"}}},
      {"data":{"name":"pa"},"transform":[{"filter":"datum.pn==7"},{"fold":["lo","hi"],"as":["k","v"]}],"mark":{"type":"line","color":"black","strokeWidth":3},"encoding":{"detail":{"field":"g","type":"nominal"},"order":{"field":"v","type":"quantitative"}}},
      {"data":{"name":"pa"},"transform":[{"filter":"datum.pn==7"},{"fold":["lo","hi"],"as":["k","v"]}],"mark":{"type":"tick","orient":"horizontal","size":20,"thickness":3,"color":"black","opacity":1}},
      {"data":{"name":"pa"},"transform":[{"filter":"datum.pn==7"},{"fold":["m"],"as":["k","v"]}],"mark":{"type":"tick","orient":"horizontal","size":40,"thickness":8,"color":"black","opacity":1}}
     ]},
    {"width":330,"height":229,
     "encoding":{"x":{"field":"g","type":"quantitative","scale":{"domain":[-0.65,4.7],"nice":false,"zero":false},"axis":{"values":[0,1,2,3,4],"labelExpr":"['Controls','I','II','III','IV'][datum.value]","title":["Protocadherin gamma-A8","(PCDHG8)"],"titleY":67}},
                 "y":{"field":"v","type":"quantitative","scale":{"domain":[8,16],"nice":false,"zero":false},"axis":{"values":[8,10,12,14,16],"title":"Logₑ peak area","titlePadding":29}}},
     "layer":[
      {"data":{"name":"sg"},"transform":[{"filter":"datum.pn==8"},{"fold":["x0","xe"],"as":["kk","g"]}],"mark":{"type":"line","color":"black","strokeWidth":4},"encoding":{"detail":{"field":"id","type":"nominal"}}},
      {"data":{"name":"sg"},"transform":[{"filter":"datum.pn==8"},{"fold":["xe"],"as":["kk","g"]}],"mark":{"type":"text","align":"left","baseline":"alphabetic","dx":2,"dy":23,"fontSize":36,"fontWeight":"bold","color":"black"},"encoding":{"text":{"field":"s","type":"nominal"}}},
      {"data":{"name":"pa"},"transform":[{"filter":"datum.pn==8"},{"fold":["lo","hi"],"as":["k","v"]}],"mark":{"type":"line","color":"black","strokeWidth":3},"encoding":{"detail":{"field":"g","type":"nominal"},"order":{"field":"v","type":"quantitative"}}},
      {"data":{"name":"pa"},"transform":[{"filter":"datum.pn==8"},{"fold":["lo","hi"],"as":["k","v"]}],"mark":{"type":"tick","orient":"horizontal","size":20,"thickness":3,"color":"black","opacity":1}},
      {"data":{"name":"pa"},"transform":[{"filter":"datum.pn==8"},{"fold":["m"],"as":["k","v"]}],"mark":{"type":"tick","orient":"horizontal","size":40,"thickness":8,"color":"black","opacity":1}}
     ]}
   ],"spacing":119,"bounds":"flush"},
   {"hconcat":[
    {"width":330,"height":229,
     "encoding":{"x":{"field":"g","type":"quantitative","scale":{"domain":[-0.65,4.7],"nice":false,"zero":false},"axis":{"values":[0,1,2,3,4],"labelExpr":"['Controls','I','II','III','IV'][datum.value]","title":["Glutathione Peroxidase 3","(GPX3)"],"titleY":68}},
                 "y":{"field":"v","type":"quantitative","scale":{"domain":[10,13],"nice":false,"zero":false},"axis":{"values":[10,11,12,13],"title":"Logₑ peak area","titlePadding":12}}},
     "layer":[
      {"data":{"name":"sg"},"transform":[{"filter":"datum.pn==9"},{"fold":["x0","xe"],"as":["kk","g"]}],"mark":{"type":"line","color":"black","strokeWidth":4},"encoding":{"detail":{"field":"id","type":"nominal"}}},
      {"data":{"name":"sg"},"transform":[{"filter":"datum.pn==9"},{"fold":["xe"],"as":["kk","g"]}],"mark":{"type":"text","align":"left","baseline":"alphabetic","dx":2,"dy":23,"fontSize":36,"fontWeight":"bold","color":"black"},"encoding":{"text":{"field":"s","type":"nominal"}}},
      {"data":{"name":"pa"},"transform":[{"filter":"datum.pn==9"},{"fold":["lo","hi"],"as":["k","v"]}],"mark":{"type":"line","color":"black","strokeWidth":3},"encoding":{"detail":{"field":"g","type":"nominal"},"order":{"field":"v","type":"quantitative"}}},
      {"data":{"name":"pa"},"transform":[{"filter":"datum.pn==9"},{"fold":["lo","hi"],"as":["k","v"]}],"mark":{"type":"tick","orient":"horizontal","size":20,"thickness":3,"color":"black","opacity":1}},
      {"data":{"name":"pa"},"transform":[{"filter":"datum.pn==9"},{"fold":["m"],"as":["k","v"]}],"mark":{"type":"tick","orient":"horizontal","size":40,"thickness":8,"color":"black","opacity":1}}
     ]},
    {"width":330,"height":229,
     "encoding":{"x":{"field":"g","type":"quantitative","scale":{"domain":[-0.65,4.7],"nice":false,"zero":false},"axis":{"values":[0,1,2,3,4],"labelExpr":"['Controls','I','II','III','IV'][datum.value]","title":["Cartilage Oligomeric","Matrix Protein (COMP)"],"titleY":66}},
                 "y":{"field":"v","type":"quantitative","scale":{"domain":[12,15],"nice":false,"zero":false},"axis":{"values":[12,13,14,15],"title":"Logₑ peak area","titlePadding":26}}},
     "layer":[
      {"data":{"name":"sg"},"transform":[{"filter":"datum.pn==10"},{"fold":["x0","xe"],"as":["kk","g"]}],"mark":{"type":"line","color":"black","strokeWidth":4},"encoding":{"detail":{"field":"id","type":"nominal"}}},
      {"data":{"name":"sg"},"transform":[{"filter":"datum.pn==10"},{"fold":["xe"],"as":["kk","g"]}],"mark":{"type":"text","align":"left","baseline":"alphabetic","dx":2,"dy":23,"fontSize":36,"fontWeight":"bold","color":"black"},"encoding":{"text":{"field":"s","type":"nominal"}}},
      {"data":{"name":"pa"},"transform":[{"filter":"datum.pn==10"},{"fold":["lo","hi"],"as":["k","v"]}],"mark":{"type":"line","color":"black","strokeWidth":3},"encoding":{"detail":{"field":"g","type":"nominal"},"order":{"field":"v","type":"quantitative"}}},
      {"data":{"name":"pa"},"transform":[{"filter":"datum.pn==10"},{"fold":["lo","hi"],"as":["k","v"]}],"mark":{"type":"tick","orient":"horizontal","size":20,"thickness":3,"color":"black","opacity":1}},
      {"data":{"name":"pa"},"transform":[{"filter":"datum.pn==10"},{"fold":["m"],"as":["k","v"]}],"mark":{"type":"tick","orient":"horizontal","size":40,"thickness":8,"color":"black","opacity":1}}
     ]},
    {"width":330,"height":229,
     "encoding":{"x":{"field":"g","type":"quantitative","scale":{"domain":[-0.65,4.7],"nice":false,"zero":false},"axis":{"values":[0,1,2,3,4],"labelExpr":"['Controls','I','II','III','IV'][datum.value]","title":["Macrophage Mannose","Receptor 1 (MRC1)"],"titleY":64}},
                 "y":{"field":"v","type":"quantitative","scale":{"domain":[9,13],"nice":false,"zero":false},"axis":{"values":[9,10,11,12,13],"title":"Logₑ peak area","titlePadding":14}}},
     "layer":[
      {"data":{"name":"sg"},"transform":[{"filter":"datum.pn==11"},{"fold":["x0","xe"],"as":["kk","g"]}],"mark":{"type":"line","color":"black","strokeWidth":4},"encoding":{"detail":{"field":"id","type":"nominal"}}},
      {"data":{"name":"sg"},"transform":[{"filter":"datum.pn==11"},{"fold":["xe"],"as":["kk","g"]}],"mark":{"type":"text","align":"left","baseline":"alphabetic","dx":2,"dy":23,"fontSize":36,"fontWeight":"bold","color":"black"},"encoding":{"text":{"field":"s","type":"nominal"}}},
      {"data":{"name":"pa"},"transform":[{"filter":"datum.pn==11"},{"fold":["lo","hi"],"as":["k","v"]}],"mark":{"type":"line","color":"black","strokeWidth":3},"encoding":{"detail":{"field":"g","type":"nominal"},"order":{"field":"v","type":"quantitative"}}},
      {"data":{"name":"pa"},"transform":[{"filter":"datum.pn==11"},{"fold":["lo","hi"],"as":["k","v"]}],"mark":{"type":"tick","orient":"horizontal","size":20,"thickness":3,"color":"black","opacity":1}},
      {"data":{"name":"pa"},"transform":[{"filter":"datum.pn==11"},{"fold":["m"],"as":["k","v"]}],"mark":{"type":"tick","orient":"horizontal","size":40,"thickness":8,"color":"black","opacity":1}}
     ]},
    {"width":330,"height":229,
     "encoding":{"x":{"field":"g","type":"quantitative","scale":{"domain":[-0.65,4.7],"nice":false,"zero":false},"axis":{"values":[0,1,2,3,4],"labelExpr":"['Controls','I','II','III','IV'][datum.value]","title":["Macrophage receptor","MARCO"],"titleY":70}},
                 "y":{"field":"v","type":"quantitative","scale":{"domain":[7,12],"nice":false,"zero":false},"axis":{"values":[7,8,9,10,11,12],"title":"Logₑ peak area","titlePadding":12}}},
     "layer":[
      {"data":{"name":"sg"},"transform":[{"filter":"datum.pn==12"},{"fold":["x0","xe"],"as":["kk","g"]}],"mark":{"type":"line","color":"black","strokeWidth":4},"encoding":{"detail":{"field":"id","type":"nominal"}}},
      {"data":{"name":"sg"},"transform":[{"filter":"datum.pn==12"},{"fold":["xe"],"as":["kk","g"]}],"mark":{"type":"text","align":"left","baseline":"alphabetic","dx":2,"dy":23,"fontSize":36,"fontWeight":"bold","color":"black"},"encoding":{"text":{"field":"s","type":"nominal"}}},
      {"data":{"name":"pa"},"transform":[{"filter":"datum.pn==12"},{"fold":["lo","hi"],"as":["k","v"]}],"mark":{"type":"line","color":"black","strokeWidth":3},"encoding":{"detail":{"field":"g","type":"nominal"},"order":{"field":"v","type":"quantitative"}}},
      {"data":{"name":"pa"},"transform":[{"filter":"datum.pn==12"},{"fold":["lo","hi"],"as":["k","v"]}],"mark":{"type":"tick","orient":"horizontal","size":20,"thickness":3,"color":"black","opacity":1}},
      {"data":{"name":"pa"},"transform":[{"filter":"datum.pn==12"},{"fold":["m"],"as":["k","v"]}],"mark":{"type":"tick","orient":"horizontal","size":40,"thickness":8,"color":"black","opacity":1}}
     ]}
   ],"spacing":119,"bounds":"flush"}
  ]
 },
 {
  "hconcat":[
   {"width":39,"height":824,"data":{"values":[]},"mark":"point"},
   {
    "width":1612,"height":824,
    "title":{"text":"b","anchor":"start","frame":"group","dx":-112,"dy":56,"offset":0,"fontSize":40,"baseline":"alphabetic"},
    "encoding":{
     "x":{"field":"p","type":"quantitative","scale":{"domain":[0,450],"nice":false,"zero":false},
          "axis":{"values":[0,50,100,150,200,250,300,350,400,450],"labelExpr":"datum.label","labelAngle":0,"labelAlign":"center","labelBaseline":"top","labelFontStyle":"normal","labelFontSize":27,"labelPadding":14,"tickSize":10,"tickWidth":3,"domainWidth":6,"title":"Protein","titleFontSize":35,"titlePadding":18}},
     "y":{"field":"c","type":"quantitative","scale":{"domain":[0,12],"nice":false,"zero":false},
          "axis":{"values":[0,2,4,6,8,10,12],"labelFontSize":27,"labelPadding":4,"tickSize":12,"tickWidth":3,"domainWidth":4,"title":"Concentration [log10(x)]","titleFontSize":38,"titlePadding":36}},
     "color":{"field":"k","type":"nominal",
          "scale":{"domain":["S","Y","M","G","R"],"range":["#2F5597","#FFC000","#FF00FF","#00F000","#FF0000"]},
          "legend":{"orient":"none","legendX":1199,"legendY":1274,"title":null,"padding":0,"labelFontSize":25,"labelFontWeight":"bold","labelColor":"#000","labelFont":"Liberation Sans","symbolType":"circle","symbolSize":230,"symbolStrokeWidth":0,"symbolOpacity":1,"rowPadding":25,"labelOffset":12,"labelLimit":600,
            "labelExpr":"datum.label=='S'?'SWATH Protein library':datum.label=='Y'?'MARS14 and API depleted':datum.label=='M'?'Non-depleted':datum.label=='G'?'MARS14 depleted':'API and MARS14 depleted'"}}
    },
    "layer":[
     {"data":{"name":"bl"},"mark":{"type":"circle","size":240,"opacity":1}},
     {"data":{"name":"hl"},"mark":{"type":"circle","size":320,"opacity":1}},
     {"data":{"name":"hl"},"transform":[{"filter":"datum.sd=='u'"}],"mark":{"type":"text","angle":270,"align":"left","baseline":"middle","dx":18,"fontSize":23,"fontWeight":"bold"},"encoding":{"x":{"field":"lp","type":"quantitative"},"text":{"field":"n","type":"nominal"}}},
     {"data":{"name":"hl"},"transform":[{"filter":"datum.sd=='d'"}],"mark":{"type":"text","angle":270,"align":"right","baseline":"middle","dx":-21,"fontSize":23,"fontWeight":"bold"},"encoding":{"x":{"field":"lp","type":"quantitative"},"text":{"field":"n","type":"nominal"}}}
    ]
   }
  ],
  "spacing":0,
  "bounds":"flush"
 }
]
}
